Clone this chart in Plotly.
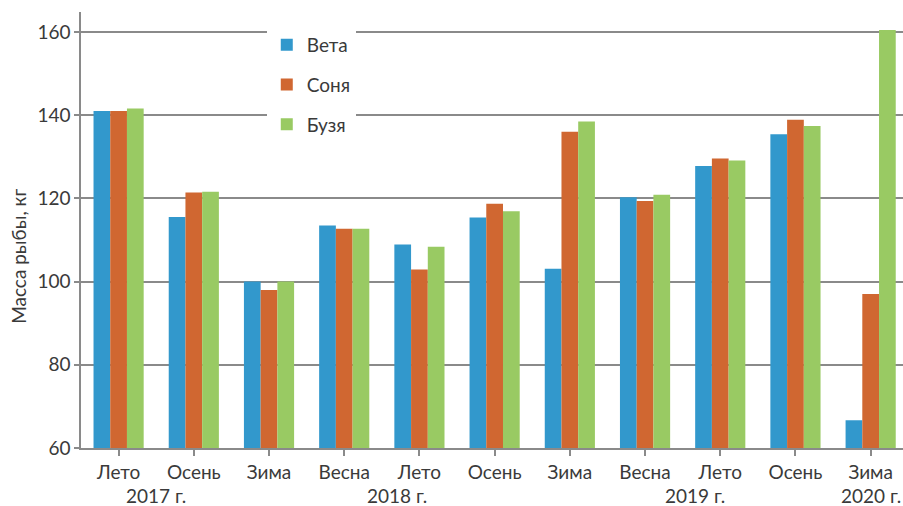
import plotly.graph_objects as go

seasons = ["Лето", "Осень", "Зима", "Весна", "Лето", "Осень", "Зима",
           "Весна", "Лето", "Осень", "Зима"]
series_names = ["Вета", "Соня", "Бузя"]
veta = [141.0, 115.5, 100.0, 113.5, 108.9, 115.4, 103.1, 120.3, 127.8, 135.4, 66.7]
sonya = [141.0, 121.4, 98.0, 112.7, 102.9, 118.7, 136.0, 119.4, 129.6, 138.9, 97.0]
buzya = [141.6, 121.6, 100.0, 112.7, 108.4, 116.9, 138.5, 120.9, 129.1, 137.4, 160.5]
years = ["2017 г.", "2018 г.", "2019 г.", "2020 г."]
year_label_x = [0.5, 3.7, 7.66, 10.0]

colors = ["#3298CC", "#D06731", "#99CA63"]
FONT = "Lato"
FS = 19
TXT = "#3a3a3a"
GRID = "#8a8a8a"

x_idx = list(range(len(seasons)))
fig = go.Figure()
for i, (name, vals) in enumerate(zip(series_names, [veta, sonya, buzya])):
    fig.add_trace(go.Bar(x=x_idx, y=vals, name=name, marker_color=colors[i],
                         marker_line_width=0, legendgroup=name))

annotations = []
for yl, xp in zip(years, year_label_x):
    annotations.append(dict(x=xp, xref="x", y=-0.11, yref="paper", text=yl,
                            showarrow=False, font=dict(family=FONT, size=FS, color=TXT),
                            xanchor="center", yanchor="middle"))
annotations.append(dict(x=-0.077, xref="paper", y=0.44, yref="paper",
                        text="Масса рыбы, кг", textangle=-90, showarrow=False,
                        font=dict(family=FONT, size=FS, color=TXT),
                        xanchor="center", yanchor="middle"))

fig.update_layout(
    width=903, height=506,
    margin=dict(l=81, r=0, t=12, b=58),
    paper_bgcolor="white", plot_bgcolor="white",
    barmode="group", bargap=0.333, bargroupgap=0,
    font=dict(family=FONT, size=FS, color=TXT),
    showlegend=True,
    legend=dict(x=0.226, y=0.968, xanchor="left", yanchor="top",
                bgcolor="white", font=dict(family=FONT, size=FS, color=TXT),
                tracegroupgap=12, traceorder="grouped"),
    annotations=annotations,
    xaxis=dict(range=[-0.5, 10.43], tickmode="array", tickvals=x_idx, ticktext=seasons,
               tickson="boundaries", ticks="outside", ticklen=6, tickcolor=GRID,
               tickwidth=1.5, showline=True, linecolor=GRID, linewidth=1.5,
               showgrid=False, zeroline=False, tickfont=dict(size=FS)),
    yaxis=dict(range=[60, 164.8], tickvals=[60, 80, 100, 120, 140, 160],
               ticks="outside", ticklen=5, tickcolor=GRID, tickwidth=1.5,
               showline=True, linecolor=GRID, linewidth=1.5,
               showgrid=True, gridcolor=GRID, gridwidth=1.5, zeroline=False,
               tickfont=dict(size=FS)),
)

fig.write_html("out.html", config={"displayModeBar": False},
               post_script="document.body.style.margin='0';")
